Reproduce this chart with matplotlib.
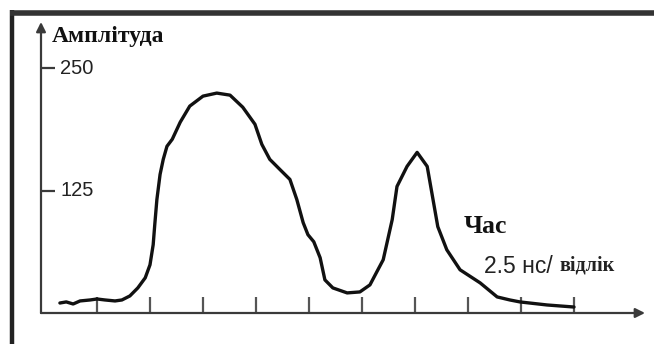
import matplotlib
matplotlib.use("Agg")
import matplotlib.pyplot as plt

# ---- data (sample index in 2.5 ns counts, amplitude) ----
sample = [0.30, 0.42, 0.55, 0.68, 0.87, 1.00, 1.15, 1.34, 1.47, 1.62, 1.77, 1.91,
          2.00, 2.06, 2.09, 2.13, 2.19, 2.25, 2.32, 2.42, 2.57, 2.75, 3.00, 3.26,
          3.51, 3.75, 3.98, 4.11, 4.26, 4.45, 4.64, 4.77, 4.89, 4.98, 5.09, 5.21,
          5.30, 5.45, 5.72, 5.96, 6.15, 6.30, 6.40, 6.57, 6.66, 6.85, 7.04, 7.23,
          7.34, 7.43, 7.60, 7.85, 8.23, 8.55, 8.79, 8.98, 9.49, 10.00]
amplitude = [10.2, 11.3, 9.2, 12.3, 13.3, 14.3, 13.3, 12.3, 13.3, 17.4, 25.6, 35.9,
             49.2, 69.7, 90.2, 115.8, 141.4, 156.8, 170.1, 177.3, 194.7, 211.1, 221.3, 224.4,
             222.3, 210.0, 192.6, 172.1, 156.8, 146.5, 136.3, 115.8, 92.2, 79.9, 72.7, 56.4,
             33.8, 25.6, 20.5, 21.5, 28.7, 44.1, 54.3, 95.3, 129.1, 149.6, 163.9, 149.6,
             115.8, 88.1, 64.5, 44.1, 30.7, 16.4, 13.3, 11.3, 8.2, 6.1]
x_ticks = list(range(1, 11))
y_ticks = [125, 250]
y_tick_labels = ["125", "250"]

W, H = 654, 344
fig = plt.figure(figsize=(W / 100, H / 100), dpi=100)
ax = fig.add_axes([0, 0, 1, 1])

# pixel geometry of the reference
PX_T1, PX_STEP = 97.0, 53.0      # x-pixel of tick 1 and spacing
PY_0, PY_PER = 313.0, 122.5 / 125  # y-pixel of zero and px per unit

def px2x(px):
    return (px - PX_T1) / PX_STEP + 1

def py2y(py):
    return (PY_0 - py) / PY_PER

ax.set_xlim(px2x(0), px2x(W))
ax.set_ylim(py2y(H), py2y(0))
ax.axis("off")

axc = "#3a3a3a"
x0 = px2x(41)
# axes with arrows
ax.annotate("", xy=(x0, py2y(22)), xytext=(x0, 0),
            arrowprops=dict(arrowstyle="-|>", lw=1.6, color=axc, mutation_scale=14,
                            shrinkA=0, shrinkB=0))
ax.annotate("", xy=(px2x(645), 0), xytext=(x0, 0),
            arrowprops=dict(arrowstyle="-|>", lw=1.6, color=axc, mutation_scale=14,
                            shrinkA=0, shrinkB=0))
# x ticks (upward)
ax.vlines(x_ticks, 0, 16 / PY_PER, color="#555555", lw=1.6)
# y ticks
ax.hlines(y_ticks, x0, px2x(55), color=axc, lw=1.6)
for v, lab in zip(y_ticks, y_tick_labels):
    ax.text(px2x(60), v, lab, fontsize=14.5, family="Liberation Sans",
            ha="left", va="center", color="#222222")

# curve
ax.plot(sample, amplitude, color="#111111", lw=2.4, solid_joinstyle="round",
        solid_capstyle="round")

# labels
ax.text(px2x(52), py2y(42), "Амплітуда", fontsize=17, family="Liberation Serif",
        fontweight="bold", ha="left", va="baseline", color="#111111")
ax.text(px2x(464), py2y(233), "Час", fontsize=18.5, family="Liberation Serif",
        fontweight="bold", ha="left", va="baseline", color="#111111")
ax.text(px2x(484), py2y(273), "2.5 нс/", fontsize=16.5, family="Liberation Sans",
        ha="left", va="baseline", color="#222222")
ax.text(px2x(559), py2y(270), "відлік", fontsize=14.5, family="Liberation Serif",
        fontweight="bold", ha="left", va="baseline", color="#222222")

# outer frame (left and top)
ax.plot([0.0185, 0.0185], [0, 1 - 10 / H], transform=ax.transAxes, color="#222222",
        lw=3.2, solid_capstyle="butt")
ax.plot([0.0185 - 0.003, 1], [1 - 13 / H, 1 - 13 / H], transform=ax.transAxes,
        color="#333333", lw=4, solid_capstyle="butt")

fig.savefig("out.png", dpi=100)
